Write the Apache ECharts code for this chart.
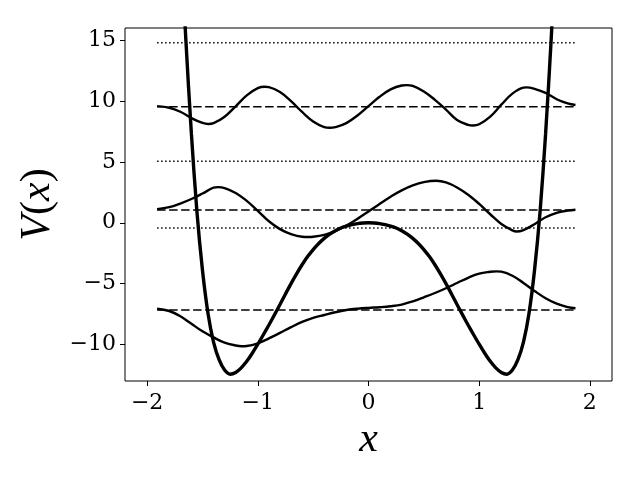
<!DOCTYPE html>
<html>
<head>
<meta charset="utf-8">
<script src="https://cdn.jsdelivr.net/npm/echarts@6/dist/echarts.min.js"></script>
<style>html,body{margin:0;padding:0;background:#fff;}#chart{width:640px;height:480px;}</style>
</head>
<body>
<div id="chart"></div>
<script>
// Tick labels
const xTicks = [-2, -1, 0, 1, 2];
const yTicks = [-10, -5, 0, 5, 10, 15];

// Energy levels
const levelXs = [-1.91, 1.87];
const levelsDashed = [-7.16, 1.04, 9.53];
const levelsDotted = [-0.43, 5.06, 14.78];

// Potential V(x)
const potX = [-1.75,-1.70,-1.65,-1.60,-1.55,-1.50,-1.45,-1.40,-1.35,-1.30,-1.25,-1.20,-1.15,-1.10,-1.05,-1.00,-0.95,-0.90,-0.85,-0.80,-0.75,-0.70,-0.65,-0.60,-0.55,-0.50,-0.45,-0.40,-0.35,-0.30,-0.25,-0.20,-0.15,-0.10,-0.05,
              0.00,0.05,0.10,0.15,0.20,0.25,0.30,0.35,0.40,0.45,0.50,0.55,0.60,0.65,0.70,0.75,0.80,0.85,0.90,0.95,1.00,1.05,1.10,1.15,1.20,1.25,1.30,1.35,1.40,1.45,1.50,1.55,1.60,1.65,1.70,1.75];
const potV = [33.5,23.8,15.0,7.3,0.9,-3.9,-7.45,-9.8,-11.25,-12.1,-12.44,-12.3,-11.92,-11.38,-10.72,-9.98,-9.2,-8.4,-7.57,-6.72,-5.85,-5.0,-4.2,-3.45,-2.78,-2.2,-1.7,-1.28,-0.93,-0.65,-0.43,-0.28,-0.16,-0.07,-0.02,
              0,-0.02,-0.07,-0.16,-0.28,-0.43,-0.65,-0.93,-1.28,-1.7,-2.2,-2.78,-3.45,-4.2,-5.0,-5.85,-6.72,-7.57,-8.4,-9.2,-9.98,-10.72,-11.38,-11.92,-12.3,-12.44,-12.1,-11.25,-9.8,-7.45,-3.9,0.9,7.3,15.0,23.8,33.5];

// Wavefunction around -7.16
const w1X = [-1.91,-1.8,-1.7,-1.6,-1.5,-1.4,-1.3,-1.2,-1.147,-1.1,-1.0,-0.9,-0.8,-0.7,-0.6,-0.5,-0.4,-0.3,-0.2,-0.1,0,
             0.1,0.2,0.3,0.4,0.5,0.6,0.7,0.8,0.9,1.0,1.1,1.156,1.2,1.3,1.4,1.5,1.6,1.7,1.8,1.87];
const w1Y = [-7.07,-7.25,-7.68,-8.3,-8.92,-9.42,-9.85,-10.08,-10.14,-10.12,-9.9,-9.5,-9.05,-8.58,-8.15,-7.82,-7.58,-7.35,-7.17,-7.06,-6.99,
             -6.94,-6.86,-6.72,-6.45,-6.12,-5.77,-5.38,-4.95,-4.52,-4.18,-4.03,-3.99,-4.02,-4.35,-4.95,-5.6,-6.2,-6.65,-6.93,-7.02];

// Wavefunction around 1.04
const w2X = [-1.91,-1.8,-1.7,-1.6,-1.5,-1.4,-1.359,-1.3,-1.2,-1.1,-1.0,-0.9,-0.8,-0.7,-0.6,-0.546,-0.5,-0.4,-0.3,-0.2,-0.1,0,
             0.1,0.2,0.3,0.4,0.5,0.614,0.7,0.8,0.9,1.0,1.1,1.2,1.3,1.337,1.4,1.5,1.6,1.7,1.8,1.87];
const w2Y = [1.12,1.28,1.58,1.95,2.4,2.88,2.93,2.85,2.45,1.8,0.98,0.12,-0.52,-0.93,-1.15,-1.17,-1.15,-0.99,-0.68,-0.23,0.32,0.93,
             1.55,2.14,2.66,3.07,3.34,3.45,3.31,2.9,2.3,1.55,0.7,-0.1,-0.62,-0.72,-0.6,-0.12,0.45,0.82,1.0,1.07];

// Wavefunction around 9.53
const w3X = [-1.91,-1.8,-1.7,-1.6,-1.5,-1.449,-1.4,-1.3,-1.2,-1.1,-1.0,-0.937,-0.9,-0.8,-0.7,-0.6,-0.5,-0.4,-0.35,-0.3,-0.2,-0.1,0,
             0.1,0.2,0.3,0.343,0.4,0.5,0.6,0.7,0.8,0.9,0.945,1.0,1.1,1.2,1.3,1.4,1.427,1.5,1.6,1.7,1.8,1.87];
const w3Y = [9.58,9.45,9.12,8.6,8.2,8.11,8.18,8.71,9.57,10.47,11.06,11.17,11.14,10.74,9.99,9.10,8.32,7.86,7.8,7.85,8.19,8.81,9.58,
             10.35,10.96,11.28,11.31,11.24,10.78,10.1,9.3,8.44,8.04,7.99,8.09,8.72,9.70,10.61,11.10,11.12,11.0,10.67,10.15,9.8,9.67];

const zip = (xs, ys) => xs.map((x, i) => [x, ys[i]]);
const fmt = v => (v < 0 ? '\u2212' + Math.abs(v) : String(v));
const TICKFONT = 'DejaVu Serif';
const LABELFONT = 'Liberation Serif';

const series = [];
levelsDashed.forEach(l => series.push({
  type: 'line', data: levelXs.map(x => [x, l]), symbol: 'none',
  lineStyle: { color: '#000', width: 1.5, type: [8.5, 3.5] }
}));
levelsDotted.forEach(l => series.push({
  type: 'line', data: levelXs.map(x => [x, l]), symbol: 'none',
  lineStyle: { color: '#000', width: 1.5, type: [1.5, 2.5] }
}));
[[w1X, w1Y], [w2X, w2Y], [w3X, w3Y]].forEach(([xs, ys]) => series.push({
  type: 'line', data: zip(xs, ys), symbol: 'none', smooth: 0.4,
  lineStyle: { color: '#000', width: 2.4 }
}));
series.push({
  type: 'line', data: zip(potX, potV), symbol: 'none', smooth: 0.3, clip: true,
  lineStyle: { color: '#000', width: 3.4 }
});

const chart = echarts.init(document.getElementById('chart'), null, { renderer: 'canvas' });
chart.setOption({
  animation: false,
  backgroundColor: '#fff',
  grid: { left: 125, right: 28, top: 28, bottom: 99, show: true, borderColor: '#000', borderWidth: 1, backgroundColor: 'transparent' },
  xAxis: {
    type: 'value', min: -2.2, max: 2.2,
    axisLine: { show: false, onZero: false },
    splitLine: { show: false },
    axisTick: { show: true, inside: false, length: 5, lineStyle: { color: '#000', width: 1 }, customValues: xTicks },
    axisLabel: { customValues: xTicks, formatter: fmt, color: '#000', fontFamily: TICKFONT, fontSize: 22, margin: 11 },
    name: 'x', nameLocation: 'middle', nameGap: 37,
    nameTextStyle: { fontFamily: LABELFONT, fontStyle: 'italic', fontSize: 42, color: '#000' }
  },
  yAxis: {
    type: 'value', min: -13, max: 16,
    axisLine: { show: false, onZero: false },
    splitLine: { show: false },
    axisTick: { show: true, inside: false, length: 5, lineStyle: { color: '#000', width: 1 }, customValues: yTicks },
    axisLabel: { customValues: yTicks, formatter: fmt, color: '#000', fontFamily: TICKFONT, fontSize: 22, margin: 9 },
    name: '{i|V}{n|(}{i|x}{n|)}', nameLocation: 'middle', nameGap: 64, nameRotate: 90,
    nameTextStyle: {
      color: '#000',
      rich: {
        i: { fontFamily: LABELFONT, fontStyle: 'italic', fontSize: 42, color: '#000' },
        n: { fontFamily: LABELFONT, fontSize: 42, color: '#000' }
      }
    }
  },
  series: series
});
</script>
</body>
</html>
